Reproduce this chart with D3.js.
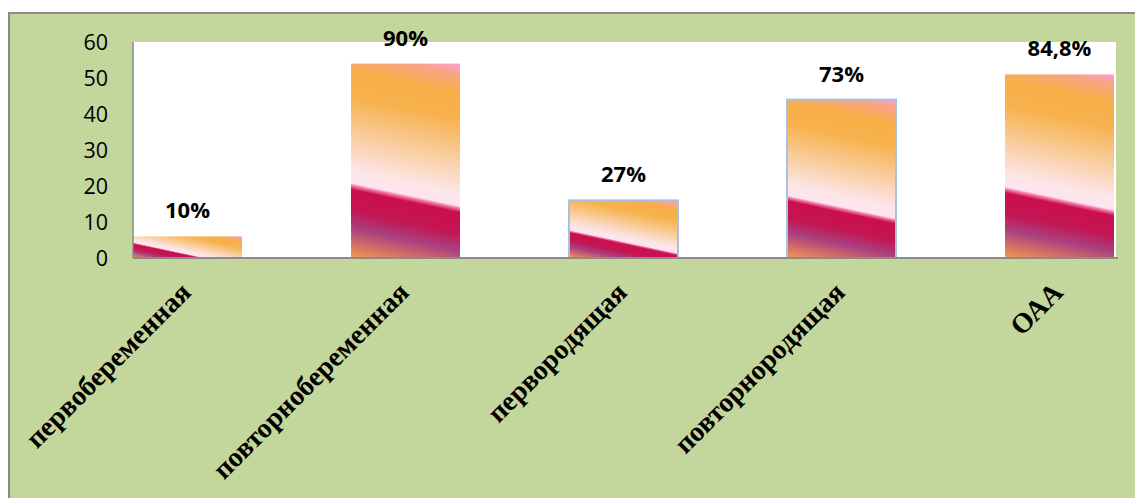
<!DOCTYPE html>
<html>
<head>
<meta charset="utf-8">
<script src="https://cdn.jsdelivr.net/npm/d3@7"></script>
<style>
    body { margin: 0; background: #fff; }
</style>
</head>
<body>
<div id="chart"></div>
<script>
    // data
    var categories = ['первобеременная', 'повторнобеременная', 'первородящая', 'повторнородящая', 'ОАА']
    var values = [6, 54, 16, 44, 51]
    var percentLabels = ['10%', '90%', '27%', '73%', '84,8%']
    var yTicks = [0, 10, 20, 30, 40, 50, 60]
    var outlined = [false, false, true, true, false]

    var width = 1135
    var height = 498

    var svg = d3.select('#chart')
        .append('svg')
        .attr('width', width)
        .attr('height', height)

    // outer green frame
    svg.append('rect')
        .attr('x', 9).attr('y', 13)
        .attr('width', 1140).attr('height', 500)
        .attr('fill', '#c3d69b')
        .attr('stroke', '#8a8a8a')
        .attr('stroke-width', 2)

    // plot area
    var pLeft = 133, pRight = 1116, pTop = 42, pBottom = 258
    svg.append('rect')
        .attr('x', pLeft).attr('y', pTop)
        .attr('width', pRight - pLeft).attr('height', pBottom - pTop)
        .attr('fill', '#fff')

    var x = d3.scaleBand()
        .domain(categories)
        .range([pLeft, 1114])
        .paddingInner(0.5)
        .paddingOuter(0)
        .align(0)

    var y = d3.scaleLinear()
        .domain([0, 60])
        .range([pBottom, pTop])

    // gradient stops (top-right -> bottom-left)
    var stops = [
        [0.00, '#fd9fd0'],
        [0.05, '#f7a585'],
        [0.14, '#f7af48'],
        [0.26, '#f7b24e'],
        [0.45, '#f9cfa4'],
        [0.60, '#fde6ea'],
        [0.655, '#fde4ee'],
        [0.665, '#f581b0'],
        [0.685, '#cb0f4e'],
        [0.78, '#c31652'],
        [0.86, '#aa3f80'],
        [1.00, '#f59b4c']
    ]

    var defs = svg.append('defs')
    var ang = 12 * Math.PI / 180
    var gdx = -Math.sin(ang), gdy = Math.cos(ang)

    categories.forEach(function (c, i) {
        var bx = x(c), bw = x.bandwidth()
        var by = y(values[i]), bh = pBottom - by
        var L = bw * Math.sin(ang) + bh * Math.cos(ang)
        var g = defs.append('linearGradient')
            .attr('id', 'grad' + i)
            .attr('gradientUnits', 'userSpaceOnUse')
            .attr('x1', bx + bw).attr('y1', by)
            .attr('x2', bx + bw + gdx * L).attr('y2', by + gdy * L)
        stops.forEach(function (s) {
            g.append('stop').attr('offset', s[0]).attr('stop-color', s[1])
        })
    })

    // bars
    svg.selectAll('rect.bar')
        .data(values)
        .enter()
        .append('rect')
        .attr('class', 'bar')
        .attr('x', function (d, i) { return x(categories[i]) })
        .attr('y', function (d) { return y(d) })
        .attr('width', x.bandwidth())
        .attr('height', function (d) { return pBottom - y(d) })
        .attr('fill', function (d, i) { return 'url(#grad' + i + ')' })
        .attr('stroke', function (d, i) { return outlined[i] ? '#a9c0e6' : 'none' })
        .attr('stroke-width', 2)

    // axis lines
    svg.append('line')
        .attr('x1', pLeft).attr('x2', pLeft)
        .attr('y1', pTop).attr('y2', pBottom)
        .attr('stroke', '#8a8a8a').attr('stroke-width', 1.5)
    svg.append('line')
        .attr('x1', pLeft).attr('x2', pRight + 2)
        .attr('y1', pBottom).attr('y2', pBottom)
        .attr('stroke', '#8a8a8a').attr('stroke-width', 2)

    // y tick labels
    svg.selectAll('text.ytick')
        .data(yTicks)
        .enter()
        .append('text')
        .attr('class', 'ytick')
        .attr('x', 108)
        .attr('y', function (d) { return y(d) })
        .attr('dy', '0.35em')
        .attr('text-anchor', 'end')
        .style('font-family', '"Open Sans", sans-serif')
        .style('font-size', '21.5px')
        .text(function (d) { return d })

    // value labels
    svg.selectAll('text.val')
        .data(values)
        .enter()
        .append('text')
        .attr('class', 'val')
        .attr('x', function (d, i) { return x(categories[i]) + x.bandwidth() / 2 })
        .attr('y', function (d) { return y(d) - 18 })
        .attr('text-anchor', 'middle')
        .style('font-family', '"Open Sans", sans-serif')
        .style('font-weight', 'bold')
        .style('font-size', '22px')
        .text(function (d, i) { return percentLabels[i] })

    // category labels, rotated
    svg.selectAll('text.cat')
        .data(categories)
        .enter()
        .append('text')
        .attr('class', 'cat')
        .attr('transform', function (d) {
            return 'translate(' + (x(d) + x.bandwidth() / 2 + 5) + ',' + 294 + ') rotate(-45)'
        })
        .attr('text-anchor', 'end')
        .style('font-family', '"Liberation Serif", serif')
        .style('font-weight', 'bold')
        .style('font-size', '28px')
        .text(function (d) { return d })
</script>
</body>
</html>
